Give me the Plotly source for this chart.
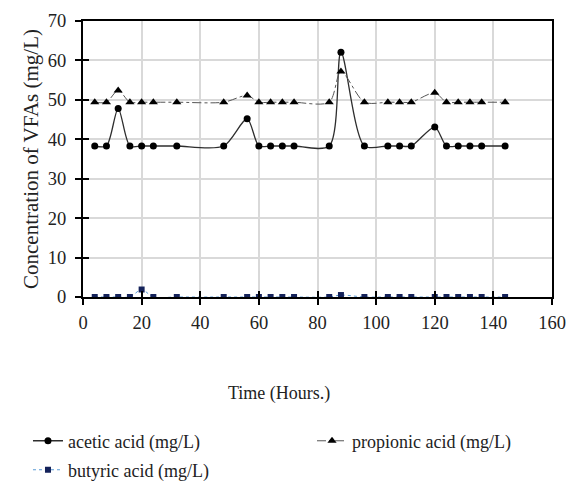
import plotly.graph_objects as go

# Sampling times (hours)
hours = [4, 8, 12, 16, 20, 24, 32, 48, 56, 60, 64, 68, 72,
         84, 88, 96, 104, 108, 112, 120, 124, 128, 132, 136, 144]

# VFA concentrations (mg/L)
acetic = [38.3, 38.3, 47.8, 38.3, 38.3, 38.3, 38.3, 38.3, 45.2, 38.3, 38.3, 38.3, 38.3,
          38.3, 62.1, 38.3, 38.3, 38.3, 38.3, 43.1, 38.3, 38.3, 38.3, 38.3, 38.3]
propionic = [49.4, 49.4, 52.4, 49.4, 49.4, 49.4, 49.4, 49.4, 51.1, 49.4, 49.4, 49.4, 49.4,
             49.4, 57.2, 49.4, 49.4, 49.4, 49.4, 51.8, 49.4, 49.4, 49.4, 49.4, 49.4]
butyric = [0.0, 0.0, 0.0, 0.0, 1.9, 0.0, 0.0, 0.0, 0.0, 0.0, 0.0, 0.0, 0.0,
           0.0, 0.5, 0.0, 0.0, 0.0, 0.0, 0.0, 0.0, 0.0, 0.0, 0.0, 0.0]

x_ticks = [0, 20, 40, 60, 80, 100, 120, 140, 160]
y_ticks = [0, 10, 20, 30, 40, 50, 60, 70]

SERIF = "Liberation Serif"
TXT = "#222222"

fig = go.Figure()

fig.add_trace(go.Scatter(
    x=hours, y=acetic, name="acetic acid (mg/L)", legend="legend",
    mode="lines+markers",
    line=dict(color="#2e2e2e", width=1.3, shape="spline", smoothing=0.8),
    marker=dict(symbol="circle", size=7, color="black"),
))
fig.add_trace(go.Scatter(
    x=hours, y=propionic, name="propionic acid (mg/L)", legend="legend2",
    mode="lines+markers",
    line=dict(color="#555555", width=1, dash="dashdot", shape="spline", smoothing=0.8),
    marker=dict(symbol="triangle-up", size=8, color="black"),
))
fig.add_trace(go.Scatter(
    x=hours, y=butyric, name="butyric acid (mg/L)", legend="legend3",
    mode="lines+markers",
    line=dict(color="#5b9bd5", width=1, dash="dot", shape="spline", smoothing=0.8),
    marker=dict(symbol="square", size=6, color="#14225a"),
))

# Empty trace that activates an overlay axis pair used for the inner half of the ticks
fig.add_trace(go.Scatter(x=[], y=[], xaxis="x2", yaxis="y2",
                         showlegend=False, hoverinfo="skip"))

axis_common = dict(
    showline=True, linecolor="black", linewidth=2, mirror=True,
    showgrid=True, gridcolor="#d9d9d9", gridwidth=1.5,
    ticks="outside", ticklen=6, tickwidth=2, tickcolor="black",
    tickfont=dict(family=SERIF, size=18.5, color=TXT),
    zeroline=False,
)

legend_common = dict(
    orientation="h", xanchor="left", yanchor="middle",
    font=dict(family=SERIF, size=18, color=TXT),
    bgcolor="rgba(0,0,0,0)",
)

fig.update_layout(
    width=569, height=488,
    margin=dict(l=83, r=17, t=21, b=191, autoexpand=False),
    paper_bgcolor="white", plot_bgcolor="white",
    font=dict(family=SERIF, color=TXT),
    xaxis=dict(range=[0, 160], tickvals=x_ticks, ticklabelstandoff=2, **axis_common),
    yaxis=dict(range=[0, 70], tickvals=y_ticks, ticklabelstandoff=5,
               title=dict(text="Concentration of VFAs (mg/L)",
                          font=dict(family=SERIF, size=21, color=TXT),
                          standoff=3),
               **axis_common),
    xaxis2=dict(range=[0, 160], tickvals=x_ticks, overlaying="x", anchor="y2",
                ticks="inside", ticklen=6, tickwidth=2, tickcolor="black",
                showticklabels=False, showgrid=False, showline=False, zeroline=False),
    yaxis2=dict(range=[0, 70], tickvals=y_ticks, overlaying="y", anchor="x2",
                ticks="inside", ticklen=6, tickwidth=2, tickcolor="black",
                showticklabels=False, showgrid=False, showline=False, zeroline=False),
    legend=dict(x=-0.1173, y=-0.522, **legend_common),
    legend2=dict(x=0.4883, y=-0.522, **legend_common),
    legend3=dict(x=-0.1173, y=-0.627, **legend_common),
    annotations=[dict(
        text="Time (Hours.)", xref="paper", yref="paper",
        x=(279 - 83) / 469, y=-0.348, xanchor="center", yanchor="middle",
        showarrow=False, font=dict(family=SERIF, size=18, color=TXT),
    )],
    showlegend=True,
)

fig.write_html("out.html")
